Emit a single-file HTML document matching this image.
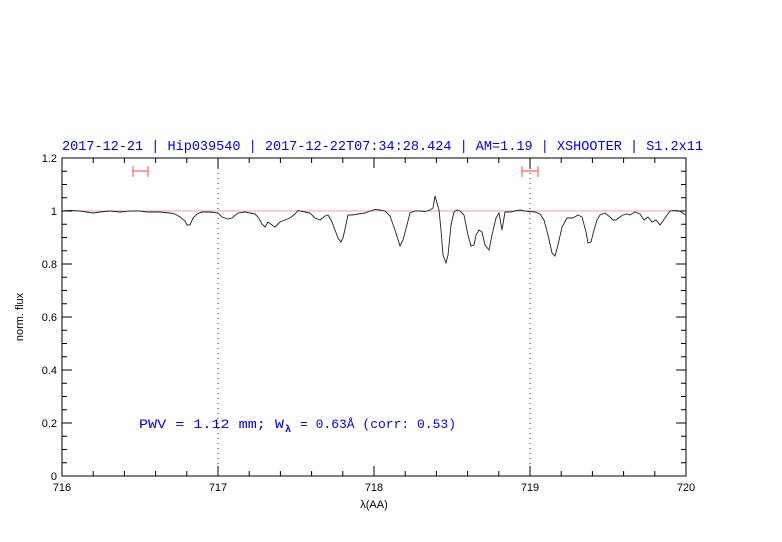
<!DOCTYPE html>
<html><head><meta charset="utf-8"><style>body{margin:0;background:#fff}svg{display:block}</style></head><body>
<svg width="782" height="542" xmlns="http://www.w3.org/2000/svg" font-family="Liberation Sans, sans-serif">
<rect width="782" height="542" fill="#fff"/>
<text x="62" y="150" font-family="Liberation Mono, monospace" font-size="13.7" fill="#0000ff" textLength="641" lengthAdjust="spacingAndGlyphs">2017-12-21 | Hip039540 | 2017-12-22T07:34:28.424 | AM=1.19 | XSHOOTER | S1.2x11</text>
<line x1="62" y1="211" x2="686" y2="211" stroke="#d88" stroke-width="0.8"/>
<line x1="218" y1="158" x2="218" y2="476" stroke="#000" stroke-width="0.8" stroke-dasharray="1,4"/>
<line x1="530" y1="158" x2="530" y2="476" stroke="#000" stroke-width="0.8" stroke-dasharray="1,4"/>
<g stroke="#f66" stroke-width="1.2" fill="none">
<path d="M133,171H148M133,166V177M148,166V177"/>
<path d="M522,171H538M522,166V177M538,166V177"/>
</g>
<polyline fill="none" stroke="#222" stroke-width="0.9" points="62,211 70,210.5 80,211 93,213 100,212 110,211 120,212 130,211 140,211 147,212 160,212 170,213 175,214 180,217 185,221 187,225 190,225 193,218 197,214 202,212 210,212 218,213 222,217 228,219 232,218 238,213 245,212 250,213 255,214 258,217 262,224 265,227 268,222 272,225 275,227 280,222 285,220 290,218 295,214 298,210.5 305,212 310,213 315,218 320,220 325,216 328,215 332,222 335,230 338,238 341,242 343,238 345,229 348,215 352,215 358,214 365,213 370,211 375,209.5 380,210 385,211 390,216 395,230 400,246 403,240 407,225 410,213 415,211 420,211 425,211.5 430,210 433,208 435,196 437,203 439,210 441,230 443,255 446,263 448,255 451,225 454,212 457,210 460,211 464,215 468,235 471,246 474,245 476,235 479,230 482,232 485,245 489,250 492,235 496,218 499,213 502,230 505,212 510,212 515,211 520,210 525,211 530,211.5 535,212 540,214 544,220 548,235 552,253 555,256 558,245 562,227 567,218 573,218 578,215 582,217 586,232 588,243 591,242 594,230 597,220 600,215 605,213 610,217 613,220 616,220 620,217 623,215 627,214 630,215 635,212 640,214 644,220 648,217 652,222 656,220 660,225 665,218 670,211 675,210.5 680,211 684,214 686,215"/>
<rect x="62" y="158" width="624" height="318" fill="none" stroke="#000" stroke-width="1"/>
<g stroke="#000" stroke-width="1">
<path d="M93.2,476v-5M124.4,476v-5M155.6,476v-5M186.8,476v-5M249.2,476v-5M280.4,476v-5M311.6,476v-5M342.8,476v-5M405.2,476v-5M436.4,476v-5M467.6,476v-5M498.8,476v-5M561.2,476v-5M592.4,476v-5M623.6,476v-5M654.8,476v-5M218,476v-10M374,476v-10M530,476v-10"/>
<path d="M93.2,158v5M124.4,158v5M155.6,158v5M186.8,158v5M249.2,158v5M280.4,158v5M311.6,158v5M342.8,158v5M405.2,158v5M436.4,158v5M467.6,158v5M498.8,158v5M561.2,158v5M592.4,158v5M623.6,158v5M654.8,158v5M218,158v10M374,158v10M530,158v10"/>
<path d="M62,462.75h5M62,449.5h5M62,436.25h5M62,409.75h5M62,396.5h5M62,383.25h5M62,356.75h5M62,343.5h5M62,330.25h5M62,303.75h5M62,290.5h5M62,277.25h5M62,250.75h5M62,237.5h5M62,224.25h5M62,197.75h5M62,184.5h5M62,171.25h5M62,423h10M62,370h10M62,317h10M62,264h10M62,211h10"/>
<path d="M686,462.75h-5M686,449.5h-5M686,436.25h-5M686,409.75h-5M686,396.5h-5M686,383.25h-5M686,356.75h-5M686,343.5h-5M686,330.25h-5M686,303.75h-5M686,290.5h-5M686,277.25h-5M686,250.75h-5M686,237.5h-5M686,224.25h-5M686,197.75h-5M686,184.5h-5M686,171.25h-5M686,423h-10M686,370h-10M686,317h-10M686,264h-10M686,211h-10"/>
</g>
<g font-size="11" fill="#000" text-anchor="middle">
<text x="62" y="491">716</text><text x="218" y="491">717</text><text x="374" y="491">718</text><text x="530" y="491">719</text><text x="686" y="491">720</text>
<text x="374" y="508">λ(AA)</text>
</g>
<g font-size="11" fill="#000" text-anchor="end">
<text x="57" y="480">0</text><text x="57" y="427">0.2</text><text x="57" y="374">0.4</text><text x="57" y="321">0.6</text><text x="57" y="268">0.8</text><text x="57" y="215">1</text><text x="57" y="162">1.2</text>
</g>
<text transform="translate(23,317) rotate(-90)" font-size="11" text-anchor="middle">norm. flux</text>
<g font-family="Liberation Mono, monospace" font-size="13" fill="#0000ff">
<text x="139" y="428" textLength="145" lengthAdjust="spacingAndGlyphs">PWV = 1.12 mm; W</text>
<text x="285" y="432" font-size="10" font-weight="bold">λ</text>
<text x="300" y="428" textLength="156" lengthAdjust="spacingAndGlyphs">= 0.63Å (corr: 0.53)</text>
</g>
</svg>
</body></html>
